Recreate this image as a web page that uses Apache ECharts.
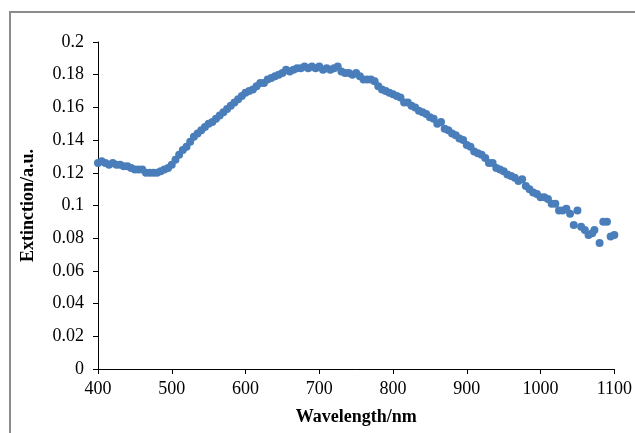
<!DOCTYPE html>
<html><head><meta charset="utf-8">
<script src="https://cdn.jsdelivr.net/npm/echarts@6/dist/echarts.min.js"></script>
<style>html,body{margin:0;padding:0;background:#fff;}#c{width:635px;height:433px;}</style>
</head><body><div id="c"></div>
<script>
var wavelengths = [400,405,410,415,420,425,430,435,440,445,450,455,460,465,470,475,480,485,490,495,
500,505,510,515,520,525,530,535,540,545,550,555,560,565,570,575,580,585,590,595,
600,605,610,615,620,625,630,635,640,645,650,655,660,665,670,675,680,685,690,695,
700,705,710,715,720,725,730,735,740,745,750,755,760,765,770,775,780,785,790,795,
800,805,810,815,820,825,830,835,840,845,850,855,860,865,870,875,880,885,890,895,
900,905,910,915,920,925,930,935,940,945,950,955,960,965,970,975,980,985,990,995,
1000,1005,1010,1015,1020,1025,1030,1035,1040,1045,1050,1055,1060,1065,1070,1073,1080,1085,1090,1095,1100];
var extinction = [0.126,0.127,0.126,0.125,0.126,0.125,0.125,0.124,0.124,0.123,0.122,0.122,0.122,0.120,0.120,0.120,0.120,0.121,0.122,0.123,
0.125,0.128,0.131,0.134,0.136,0.139,0.142,0.144,0.146,0.148,0.150,0.151,0.153,0.155,0.157,0.159,0.161,0.163,0.165,0.167,
0.169,0.170,0.171,0.173,0.175,0.175,0.177,0.178,0.179,0.180,0.181,0.183,0.182,0.183,0.184,0.184,0.185,0.184,0.185,0.184,
0.185,0.183,0.184,0.183,0.184,0.185,0.182,0.181,0.181,0.180,0.181,0.179,0.177,0.177,0.177,0.176,0.173,0.171,0.170,0.169,
0.168,0.167,0.166,0.163,0.163,0.161,0.160,0.158,0.157,0.156,0.154,0.153,0.150,0.151,0.147,0.146,0.144,0.143,0.141,0.140,
0.137,0.136,0.133,0.132,0.131,0.129,0.126,0.126,0.123,0.122,0.121,0.119,0.118,0.117,0.115,0.116,0.112,0.110,0.108,0.107,
0.105,0.105,0.104,0.101,0.101,0.097,0.097,0.098,0.095,0.088,0.097,0.087,0.085,0.082,0.083,0.085,0.077,0.090,0.090,0.081,0.082];
var xTicks = ['400','500','600','700','800','900','1000','1100'];
var yTicks = ['0','0.02','0.04','0.06','0.08','0.1','0.12','0.14','0.16','0.18','0.2'];

var points = wavelengths.map(function(w,i){return [w, extinction[i]];});
var chart = echarts.init(document.getElementById('c'), null, {renderer:'canvas'});
var font = '"Liberation Serif","Times New Roman",serif';
chart.setOption({
  animation:false,
  backgroundColor:'#fff',
  graphic:[{type:'rect', shape:{x:10,y:12,width:700,height:500}, style:{fill:null, stroke:'#8c8c8c', lineWidth:2}, silent:true}],
  grid:{left:98, right:18, top:42, bottom:64},
  xAxis:{type:'value', min:400, max:1100, interval:100,
    name:'Wavelength/nm', nameLocation:'middle', nameGap:39,
    nameTextStyle:{fontFamily:font, fontWeight:'bold', fontSize:18, color:'#000'},
    axisLine:{lineStyle:{color:'#000', width:1}},
    axisTick:{show:true, inside:false, length:5, lineStyle:{color:'#000'}},
    axisLabel:{fontFamily:font, fontSize:18, color:'#000', margin:11,
      formatter:function(v){var s=String(Math.round(v)); return xTicks.indexOf(s)>=0?s:'';}},
    splitLine:{show:false}},
  yAxis:{type:'value', min:0, max:0.2, interval:0.02,
    name:'Extinction/a.u.', nameLocation:'middle', nameGap:61,
    nameTextStyle:{fontFamily:font, fontWeight:'bold', fontSize:18, color:'#000'},
    axisLine:{show:true, lineStyle:{color:'#000', width:1}},
    axisTick:{show:true, inside:false, length:5, lineStyle:{color:'#000'}},
    axisLabel:{fontFamily:font, fontSize:18, color:'#000', margin:14,
      formatter:function(v){var s=String(Math.round(v*100)/100); return yTicks.indexOf(s)>=0?s:'';}},
    splitLine:{show:false}},
  series:[{type:'scatter', data:points, symbol:'circle', symbolSize:8,
    itemStyle:{color:'#4a7ebb', opacity:1}}]
});
</script></body></html>
